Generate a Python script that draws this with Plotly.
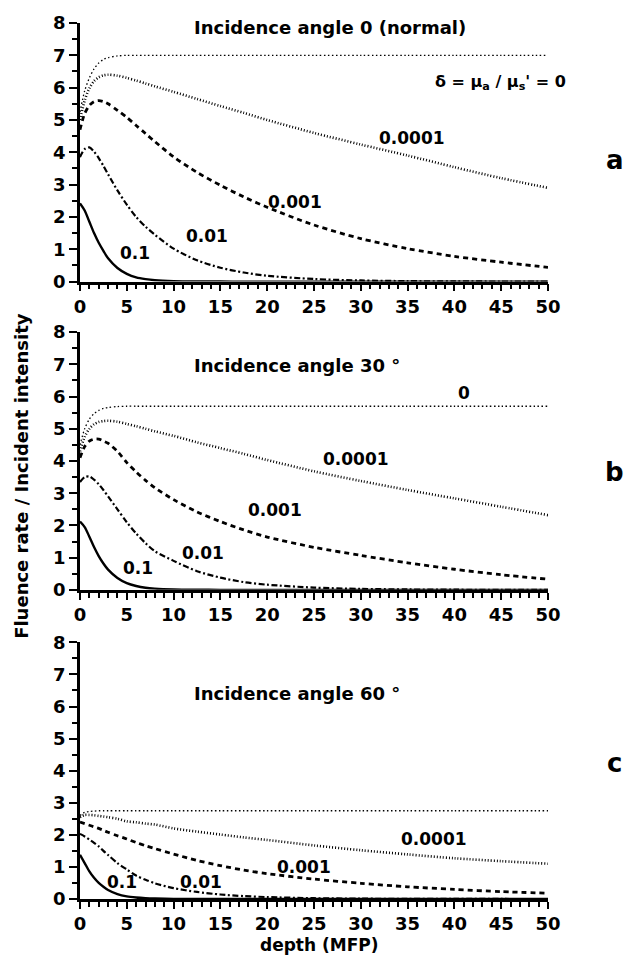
import plotly.graph_objects as go

# Depth into the medium, in mean free paths
DEPTH = [0, 0.5, 1, 1.5, 2, 2.5, 3, 4, 5, 6, 7, 8, 10, 12.5, 15, 17.5, 20, 25, 30, 35, 40, 45, 50]

# Normalised fluence rate for each absorption ratio delta = mu_a / mu_s'
# Panel a: normal incidence
A_D0 = [5.25, 5.9, 6.3, 6.58, 6.76, 6.87, 6.93, 6.98, 7.0, 7.0, 7.0, 7.0, 7.0, 7.0, 7.0, 7.0, 7.0, 7.0, 7.0, 7.0, 7.0, 7.0, 7.0]
A_D4 = [5.0, 5.6, 5.98, 6.2, 6.32, 6.38, 6.4, 6.37, 6.3, 6.22, 6.13, 6.04, 5.87, 5.65, 5.43, 5.22, 5.0, 4.6, 4.24, 3.9, 3.54, 3.2, 2.9]
A_D3 = [4.7, 5.2, 5.45, 5.57, 5.6, 5.57, 5.5, 5.3, 5.08, 4.83, 4.58, 4.33, 3.86, 3.38, 2.98, 2.62, 2.3, 1.75, 1.33, 1.02, 0.78, 0.6, 0.44]
A_D2 = [3.85, 4.1, 4.15, 4.02, 3.82, 3.58, 3.32, 2.82, 2.38, 2.0, 1.7, 1.45, 1.02, 0.66, 0.43, 0.28, 0.18, 0.08, 0.035, 0.015, 0.006, 0.003, 0.001]
A_D1 = [2.42, 2.2, 1.85, 1.5, 1.2, 0.95, 0.72, 0.42, 0.24, 0.13, 0.075, 0.043, 0.015, 0.004, 0.001, 0, 0, 0, 0, 0, 0, 0, 0]

# Panel b: 30 degree incidence
B_D0 = [4.5, 5.0, 5.3, 5.47, 5.57, 5.63, 5.66, 5.69, 5.7, 5.7, 5.7, 5.7, 5.7, 5.7, 5.7, 5.7, 5.7, 5.7, 5.7, 5.7, 5.7, 5.7, 5.7]
B_D4 = [4.3, 4.75, 5.0, 5.14, 5.21, 5.24, 5.25, 5.22, 5.15, 5.08, 5.0, 4.92, 4.78, 4.58, 4.4, 4.22, 4.03, 3.68, 3.38, 3.1, 2.84, 2.58, 2.32]
B_D3 = [4.1, 4.45, 4.62, 4.68, 4.68, 4.62, 4.55, 4.3, 3.95, 3.66, 3.4, 3.17, 2.8, 2.42, 2.12, 1.86, 1.64, 1.32, 1.07, 0.84, 0.64, 0.47, 0.33]
B_D2 = [3.35, 3.5, 3.52, 3.42, 3.28, 3.1, 2.9, 2.5, 2.1, 1.75, 1.45, 1.2, 0.9, 0.58, 0.38, 0.24, 0.16, 0.07, 0.03, 0.013, 0.005, 0.002, 0.001]
B_D1 = [2.12, 1.95, 1.65, 1.33, 1.05, 0.82, 0.63, 0.37, 0.21, 0.12, 0.065, 0.038, 0.013, 0.004, 0.001, 0, 0, 0, 0, 0, 0, 0, 0]

# Panel c: 60 degree incidence
C_D0 = [2.6, 2.7, 2.73, 2.74, 2.75, 2.75, 2.75, 2.75, 2.75, 2.75, 2.75, 2.75, 2.75, 2.75, 2.75, 2.75, 2.75, 2.75, 2.75, 2.75, 2.75, 2.75, 2.75]
C_D4 = [2.55, 2.62, 2.62, 2.61, 2.59, 2.57, 2.55, 2.5, 2.42, 2.39, 2.35, 2.32, 2.2, 2.1, 2.01, 1.92, 1.84, 1.67, 1.52, 1.39, 1.27, 1.18, 1.1]
C_D3 = [2.4, 2.35, 2.3, 2.25, 2.2, 2.14, 2.08, 1.97, 1.87, 1.76, 1.66, 1.57, 1.4, 1.2, 1.04, 0.9, 0.79, 0.62, 0.49, 0.38, 0.3, 0.23, 0.18]
C_D2 = [2.03, 1.95, 1.85, 1.75, 1.64, 1.5, 1.37, 1.12, 0.92, 0.73, 0.6, 0.49, 0.34, 0.22, 0.14, 0.09, 0.06, 0.025, 0.011, 0.005, 0.002, 0.001, 0]
C_D1 = [1.38, 1.12, 0.86, 0.66, 0.5, 0.38, 0.28, 0.15, 0.08, 0.045, 0.025, 0.014, 0.004, 0.001, 0, 0, 0, 0, 0, 0, 0, 0, 0]

PANELS = [
    ("a", "Incidence angle 0 (normal)", [A_D0, A_D4, A_D3, A_D2, A_D1]),
    ("b", "Incidence angle 30 °", [B_D0, B_D4, B_D3, B_D2, B_D1]),
    ("c", "Incidence angle 60 °", [C_D0, C_D4, C_D3, C_D2, C_D1]),
]

# Curve labels per panel: (text, depth, value)
CURVE_LABELS = [
    [("0.0001", 35.5, 4.45), ("0.001", 23.0, 2.45), ("0.01", 13.6, 1.41), ("0.1", 5.9, 0.89)],
    [("0", 41.0, 6.12), ("0.0001", 29.5, 4.06), ("0.001", 20.8, 2.47), ("0.01", 13.1, 1.14), ("0.1", 6.2, 0.68)],
    [("0", 50.5, 3.06), ("0.0001", 37.8, 1.88), ("0.001", 23.9, 1.0), ("0.01", 12.9, 0.53), ("0.1", 4.5, 0.53)],
]

# Line styles, one per delta value (0, 0.0001, 0.001, 0.01, 0.1)
STYLES = [
    dict(width=1.3, dash="1.5px,2.5px"),
    dict(width=2.6, dash="1px,2px"),
    dict(width=2.8, dash="5px,4px"),
    dict(width=2.2, dash="6px,2.5px,2px,2.5px"),
    dict(width=2.4, dash="solid"),
]

DOMAINS = [(0.7048, 1.0), (0.3529, 0.6471), (0.0, 0.2930)]
TITLE_POS = [(26.7, 7.85, "center"), (12.0, 6.98, "left"), (12.0, 6.39, "left")]
LETTER_Y = [0.844, 0.4876, 0.155]

FONT = "DejaVu Sans"

fig = go.Figure()
layout = dict(
    width=633, height=961,
    margin=dict(l=80, r=85, t=15, b=62),
    paper_bgcolor="white", plot_bgcolor="white",
    showlegend=False,
)
annotations = []

for i, (letter, title, series) in enumerate(PANELS):
    sfx = "" if i == 0 else str(i + 1)
    xref, yref = "x" + sfx, "y" + sfx
    for vals, st in zip(series, STYLES):
        fig.add_trace(go.Scatter(
            x=DEPTH, y=vals, mode="lines", xaxis=xref, yaxis=yref,
            line=dict(color="black", width=st["width"], dash=st["dash"],
                      shape="spline", smoothing=0.8),
            hoverinfo="skip",
        ))
    axis_common = dict(
        showline=True, linecolor="black", linewidth=2.5, mirror=False,
        showgrid=False, zeroline=False,
        ticks="outside", tickcolor="black", tickwidth=2.2, ticklen=7,
        tickfont=dict(family=FONT, size=18, color="black", weight="bold"),
    )
    layout["xaxis" + sfx] = dict(
        axis_common, domain=[0, 1], range=[0, 50], dtick=5, tick0=0,
        anchor=yref,
        minor=dict(ticks="outside", dtick=1, ticklen=5, tickwidth=1.6, tickcolor="black"),
    )
    layout["yaxis" + sfx] = dict(
        axis_common, domain=list(DOMAINS[i]), range=[0, 8], dtick=1, tick0=0,
        anchor=xref, ticklen=8,
        minor=dict(ticks="outside", dtick=0.5, ticklen=5, tickwidth=1.6, tickcolor="black"),
    )
    tx, ty, anc = TITLE_POS[i]
    annotations.append(dict(
        x=tx, y=ty, xref=xref, yref=yref, text=title, showarrow=False,
        xanchor=anc, yanchor="middle",
        font=dict(family=FONT, size=18, color="black", weight="bold"),
    ))
    for txt, lx, ly in CURVE_LABELS[i]:
        annotations.append(dict(
            x=lx, y=ly, xref=xref, yref=yref, text=txt, showarrow=False,
            xanchor="center", yanchor="middle",
            font=dict(family=FONT, size=17, color="black", weight="bold"),
        ))
    annotations.append(dict(
        x=1.143, y=LETTER_Y[i], xref="paper", yref="paper", text=letter,
        showarrow=False, xanchor="center", yanchor="middle",
        font=dict(family=FONT, size=26, color="black", weight="bold"),
    ))

# Delta definition in the top panel
annotations.append(dict(
    x=44.9, y=6.17, xref="x", yref="y",
    text="δ = μ<sub>a</sub> / μ<sub>s</sub>' = 0", showarrow=False,
    xanchor="center", yanchor="middle",
    font=dict(family=FONT, size=16, color="black", weight="bold"),
))

# Shared axis titles
annotations.append(dict(
    x=-0.124, y=0.483, xref="paper", yref="paper",
    text="Fluence rate / Incident intensity", textangle=-90, showarrow=False,
    xanchor="center", yanchor="middle",
    font=dict(family=FONT, size=18, color="black", weight="bold"),
))
annotations.append(dict(
    x=0.511, y=-0.053, xref="paper", yref="paper",
    text="depth (MFP)", showarrow=False,
    xanchor="center", yanchor="middle",
    font=dict(family=FONT, size=17, color="black", weight="bold"),
))

layout["annotations"] = annotations
fig.update_layout(**layout)
fig.write_html("out.html")
